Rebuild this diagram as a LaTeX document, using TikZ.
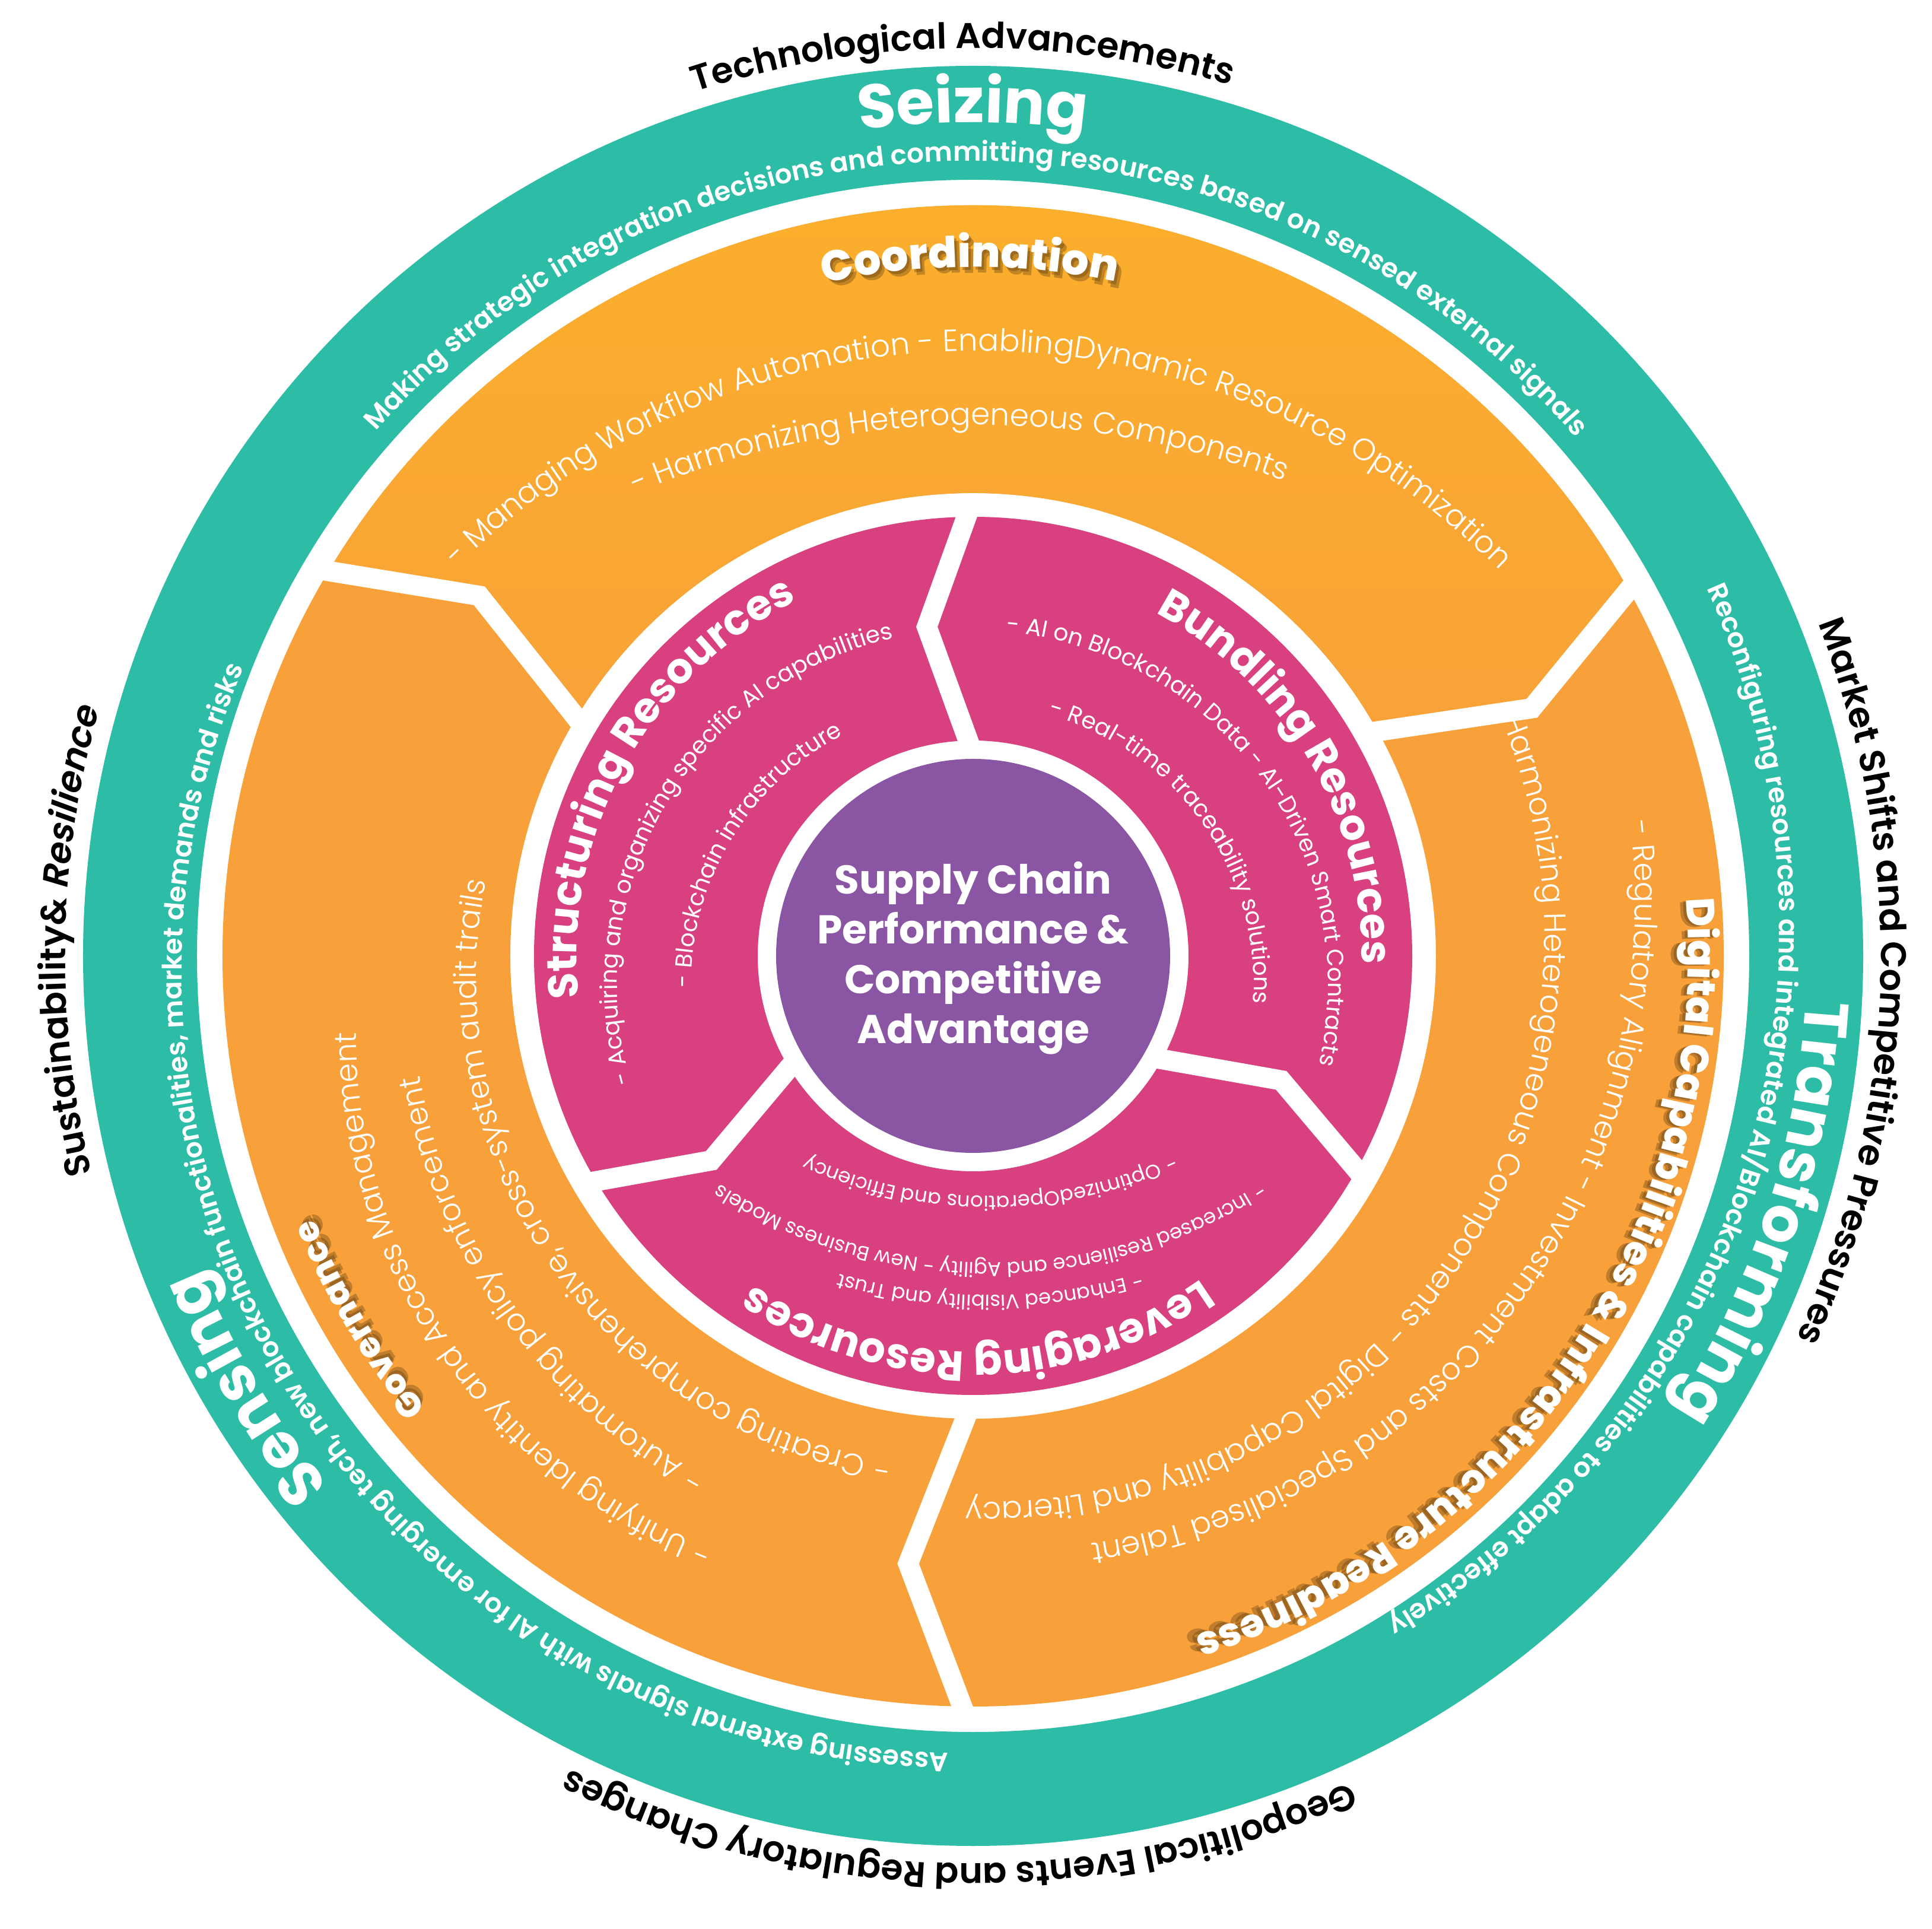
\documentclass[tikz,border=0pt]{standalone}
\usepackage{fontspec}
\usetikzlibrary{decorations.text}
\setmainfont{Poppins}
\IfFontExistsTF{Poppins Light}{\newfontfamily\famL{Poppins Light}}{\newfontfamily\famL{Poppins}}
\IfFontExistsTF{Poppins SemiBold}{\newfontfamily\famS{Poppins SemiBold}\newfontfamily\famSI{Poppins SemiBold}[FakeSlant=0.2]}{\newfontfamily\famS{Poppins}[FakeBold=1.5]\newfontfamily\famSI{Poppins}[FakeBold=1.5,FakeSlant=0.2]}
\IfFontExistsTF{Poppins Bold}{\newfontfamily\famB{Poppins Bold}}{\newfontfamily\famB{Poppins}[FakeBold=3]}
\IfFontExistsTF{Poppins ExtraBold}{\newfontfamily\famX{Poppins ExtraBold}}{\newfontfamily\famX{Poppins Bold}}
\definecolor{tealR}{HTML}{2DBCA5}
\definecolor{orangeR}{HTML}{F8A13A}
\definecolor{coordTop}{HTML}{FCB22A}
\definecolor{coordBot}{HTML}{F8A238}
\definecolor{magR}{HTML}{D84080}
\definecolor{purpR}{HTML}{8A55A2}
\definecolor{shadowR}{HTML}{5A3A10}
\newcommand\fOuter{\famS\fontsize{17.1pt}{20pt}\selectfont}
\newcommand\fOuterI{\famSI\fontsize{17.1pt}{20pt}\selectfont}
\newcommand\fTB{\famB\fontsize{29.6pt}{30pt}\selectfont}
\newcommand\fTS{\famS\fontsize{12.9pt}{15pt}\selectfont}
\newcommand\fCT{\famX\fontsize{20.5pt}{24pt}\selectfont}
\newcommand\fGT{\famX\fontsize{16.6pt}{20pt}\selectfont}
\newcommand\fDT{\famX\fontsize{19pt}{22pt}\selectfont}
\newcommand\fOB{\famL\fontsize{14.7pt}{17pt}\selectfont}
\newcommand\fMT{\famB\fontsize{20.2pt}{24pt}\selectfont}
\newcommand\fMB{\rmfamily\fontsize{11.2pt}{13pt}\selectfont}
\newcommand\fLB{\rmfamily\fontsize{9.7pt}{11pt}\selectfont}
% #1 start angle, #2 end angle, #3 r start, #4 r middle, #5 r end, #6 font, #7 options, #8 text
\newcommand\arcT[8]{%
  \path[decorate,decoration={text along path,text align=center,#7,text={|#6|#8}}]
    plot[domain=-0.3:1.3,samples=121,variable=\t]
    ({(#1)+((#2)-(#1))*\t}:{(#3)*(1-\t)*(1-2*\t)+4*(#4)*\t*(1-\t)+(#5)*\t*(2*\t-1)});}
\tikzset{sepline/.style={white,line width=0.34cm,line join=miter,line cap=butt}}
\begin{document}
\begin{tikzpicture}
\useasboundingbox (-16.40,-16.40) rectangle (16.16,16.11);
\fill[white] (-16.40,-16.40) rectangle (16.16,16.11);
% rings
\fill[tealR,even odd rule] (0,0) circle (15) (0,0) circle (13.08);
\fill[orangeR,even odd rule] (0,0) circle (12.65) (0,0) circle (7.80);
\shade[top color=coordTop,bottom color=coordBot] (149.6:12.65) arc[start angle=149.6,end angle=29.6,radius=12.65] -- (23.9:10.3) -- (29.6:7.8) arc[start angle=29.6,end angle=149.6,radius=7.8] -- (143.9:10.3) -- cycle;
\fill[magR,even odd rule] (0,0) circle (7.40) (0,0) circle (3.63);
\fill[purpR] (0,0) circle (3.32);
% separators
\draw[sepline] (149.6:12.9) -- (143.9:10.3) -- (149.6:7.6);
\draw[sepline] (29.6:12.9) -- (23.9:10.3) -- (29.6:7.6);
\draw[sepline] (269.6:12.9) -- (263.9:10.3) -- (269.6:7.6);
\draw[sepline] (90.3:7.6) -- (98.0:5.6) -- (90.3:3.45);
\draw[sepline] (-29.7:7.6) -- (-22.0:5.6) -- (-29.7:3.45);
\draw[sepline] (210.3:7.6) -- (218.0:5.6) -- (210.3:3.45);
% outer labels
\arcT{107.7}{73.6}{15.3}{15.3}{15.3}{\fOuter}{text color=black}{Technological Advancements}
\arcT{21.4}{-24.9}{15.3}{15.3}{15.3}{\fOuter}{text color=black}{Market Shifts and Competitive Pressures}
\arcT{-66.1}{-115.9}{15.3}{15.3}{15.3}{\fOuter}{text color=black}{Geopolitical Events and Regulatory Changes}
\arcT{193.8}{164.3}{15.3}{15.3}{15.3}{\fOuter}{text color=black}{Sustainability{\&} |\fOuterI|Resilience}
% teal ring
\arcT{100}{80}{14.05}{14.05}{14.05}{\fTB}{text color=white}{Seizing}
\arcT{-3.6}{-32.5}{14.05}{14.05}{14.05}{\fTB}{text color=white}{Transforming}
\arcT{217.9}{203.5}{14.05}{14.05}{14.05}{\fTB}{text color=white}{Sensing}
\arcT{139.3}{39.9}{13.40}{13.40}{13.40}{\fTS}{text color=white}{Making strategic integration decisions and committing resources based on sensed external signals}
\arcT{25.8}{-59}{13.82}{13.45}{13.2}{\fTS}{text color=white}{Reconfiguring resources and integrated AI/Blockchain capabilities to adapt effectively}
\arcT{266.5}{159.3}{13.45}{13.45}{13.22}{\fTS}{text color=white}{Assessing external signals with AI for emerging tech, new blockchain functionalities, market demands and risks}
% titles with shadow
\begin{scope}[opacity=0.35]
\arcT{101.4}{78.7}{11.56}{11.56}{11.56}{\fCT}{text color=shadowR}{Coordination}
\arcT{101.2}{78.5}{11.51}{11.51}{11.51}{\fCT}{text color=shadowR}{Coordination}
\arcT{219.3}{201.6}{11.90}{11.90}{11.90}{\fGT}{text color=shadowR}{Governance}
\arcT{219.1}{201.4}{11.85}{11.85}{11.85}{\fGT}{text color=shadowR}{Governance}
\arcT{5.3}{-73.2}{12.00}{12.00}{12.00}{\fDT}{text color=shadowR}{Digital Capabilities {\&} Infrastructure Readiness}
\arcT{5.1}{-73.4}{11.95}{11.95}{11.95}{\fDT}{text color=shadowR}{Digital Capabilities {\&} Infrastructure Readiness}
\end{scope}
\arcT{101.6}{78.9}{11.61}{11.61}{11.61}{\fCT}{text color=white}{Coordination}
\arcT{219.5}{201.8}{11.95}{11.95}{11.95}{\fGT}{text color=white}{Governance}
\arcT{5.5}{-73}{12.05}{12.05}{12.05}{\fDT}{text color=white}{Digital Capabilities {\&} Infrastructure Readiness}
% orange bullets
\arcT{143.4}{36}{10.90}{10.20}{11.00}{\fOB}{text color=white}{- Managing Workflow Automation - EnablingDynamic Resource Optimization}
\arcT{125.6}{57}{9.62}{8.95}{9.56}{\fOB}{text color=white}{- Harmonizing Heterogeneous Components}
\arcT{246.8}{185.5}{10.90}{10.93}{10.44}{\fOB}{text color=white}{- Unifying Identity and Access Management}
\arcT{243.3}{190.8}{9.87}{9.72}{9.53}{\fOB}{text color=white}{- Automating policy enforcement}
\arcT{261.5}{168.8}{8.63}{8.55}{8.28}{\fOB}{text color=white}{- Creating comprehensive, cross-system audit trails}
\arcT{9.3}{-80.5}{11.27}{10.60}{10.08}{\fOB}{text color=white}{- Regulatory Alignment - Investment Costs and Specialised Talent}
\arcT{23.3}{-92.8}{9.75}{9.45}{9.19}{\fOB}{text color=white}{Harmonizing Heterogeneous Components - Digital Capability and Literacy}
% magenta titles
\arcT{186}{116.3}{6.68}{6.68}{6.68}{\fMT}{text color=white}{Structuring Resources}
\arcT{62.5}{-1.8}{6.55}{6.55}{6.55}{\fMT}{text color=white}{Bundling Resources}
\arcT{-55.2}{-123.5}{6.67}{6.67}{6.67}{\fMT}{text color=white}{Leveraging Resources}
% magenta bullets
\begin{scope}[shift={(0,-0.49)}]
\arcT{197.2}{101.5}{6.00}{6.00}{6.00}{\fMB}{text color=white}{- Acquiring and organizing specific AI capabilities}
\arcT{181.1}{116.8}{4.75}{4.75}{4.75}{\fMB}{text color=white}{- Blockchain infrastructure}
\arcT{85.4}{-13.8}{5.98}{5.98}{5.98}{\fMB}{text color=white}{- AI on Blockchain Data - AI-Driven Smart Contracts}
\arcT{73.9}{-3.3}{4.73}{4.73}{4.73}{\fMB}{text color=white}{- Real-time traceability solutions}
\end{scope}
\begin{scope}[shift={(0.28,3.31)}]
\arcT{-66.05}{-113.95}{7.36}{7.36}{7.36}{\fLB}{text color=white}{- OptimizedOperations and Efficiency}
\arcT{-56.95}{-123.05}{8.48}{8.48}{8.48}{\fLB}{text color=white}{- Increased Resilience and Agility - New Business Models}
\arcT{-73.45}{-106.55}{9.03}{9.03}{9.03}{\fLB}{text color=white}{- Enhanced Visibility and Trust}
\end{scope}
% centre
\node[font=\famB\fontsize{19.3pt}{23.9pt}\selectfont,text=white,align=center] (ctr) at (0,-0.04) {Supply Chain\\Performance \&\\Competitive\\Advantage};
\end{tikzpicture}
\end{document}
